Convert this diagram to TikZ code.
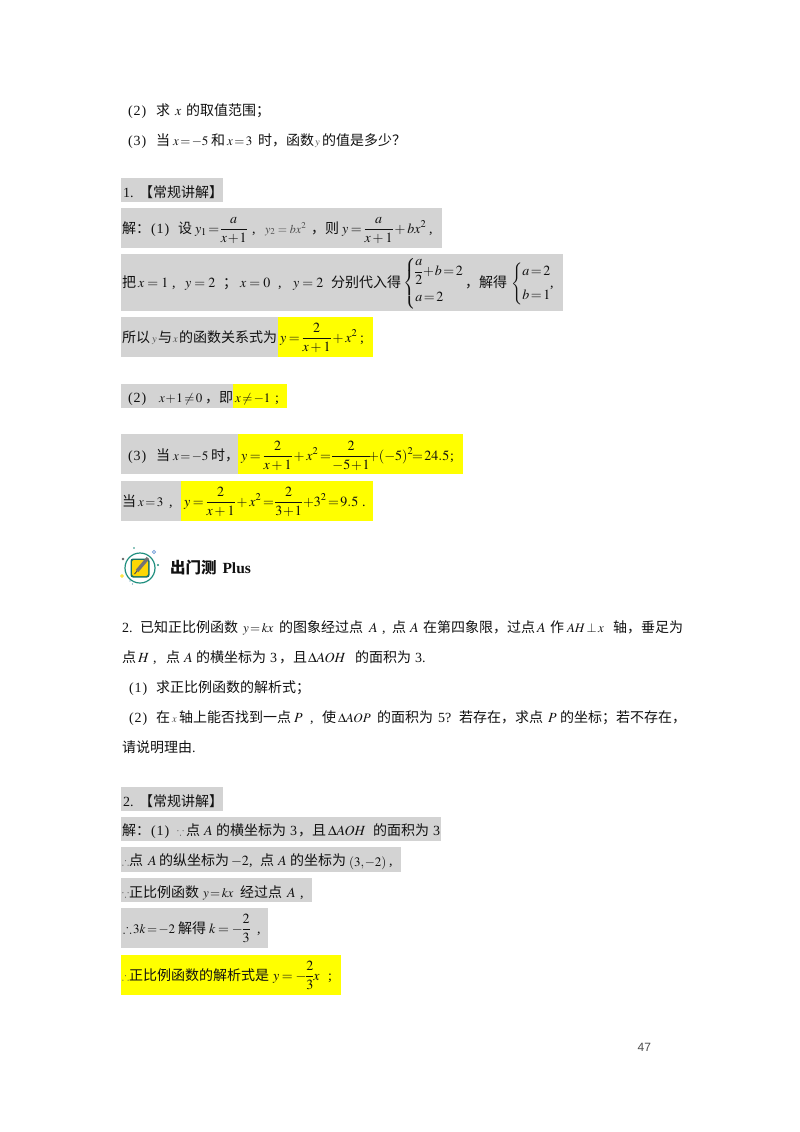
\documentclass[tikz,border=0pt]{standalone}
\usepackage[no-math]{fontspec}
\usepackage{amsmath,amssymb}
\usepackage{mathptmx}
\setmainfont{Liberation Serif}
\newfontfamily\cjk{Noto Sans CJK SC}
\newfontfamily\cjkb{Noto Sans CJK SC Bold}
\newfontfamily\lsans{Liberation Sans}
\definecolor{grayhl}{HTML}{D3D3D3}
\definecolor{yelhl}{HTML}{FFFF00}
\definecolor{ink}{HTML}{111111}
\definecolor{tealring}{HTML}{1F8F7F}
\newcounter{tn}
\newcommand{\tightm}{\thinmuskip=1mu\medmuskip=1mu plus 0mu\thickmuskip=2mu plus 0mu\nulldelimiterspace=0pt}
\newcommand{\midm}{\thinmuskip=1mu\medmuskip=2.5mu plus 0mu\thickmuskip=3.5mu plus 0mu\nulldelimiterspace=0pt}
\tikzset{
  x=1pt,y=-1pt,
  txt/.style={anchor=base west,inner sep=0pt,outer sep=0pt,text=ink,font=\fontsize{14}{16}\selectfont},
  grayband/.style={fill=grayhl,draw=none},
  yelband/.style={fill=yelhl,draw=none}
}
% Chinese text
\newcommand{\Cn}[3]{\stepcounter{tn}\node[txt] (t\arabic{tn}) at (#1,#2) {\cjk #3};}
% math, normal size, tight
\newcommand{\Mt}[3]{\stepcounter{tn}\node[txt] (t\arabic{tn}) at (#1,#2) {\tightm$\displaystyle #3$};}
% math, normal size, medium spacing
\newcommand{\Mv}[3]{\stepcounter{tn}\node[txt] (t\arabic{tn}) at (#1,#2) {\midm$\displaystyle #3$};}
% math, normal size, loose
\newcommand{\Mw}[3]{\stepcounter{tn}\node[txt] (t\arabic{tn}) at (#1,#2) {$#3$};}
% math, small
\newcommand{\Ms}[3]{\stepcounter{tn}\node[txt,font=\fontsize{13}{15}\selectfont] (t\arabic{tn}) at (#1,#2) {\tightm$#3$};}
% faint small formula
\newcommand{\Mf}[3]{\stepcounter{tn}\node[txt,font=\fontsize{12}{14}\selectfont,text=black!70] (t\arabic{tn}) at (#1,#2) {$#3$};}
% single tiny letters
\newcommand{\Mx}[3]{\stepcounter{tn}\node[txt,font=\fontsize{10.5}{12}\selectfont,text=black!70] (t\arabic{tn}) at (#1,#2) {$#3$};}
% upright roman text
\newcommand{\Rm}[3]{\stepcounter{tn}\node[txt] (t\arabic{tn}) at (#1,#2) {#3};}
\newcommand{\Pn}[1]{(\kern1pt#1\kern1pt)}
\newcommand{\Band}[5]{\fill[#1] (#2,#4) rectangle (#3,#5);}
\begin{document}
\begin{tikzpicture}
\useasboundingbox (0,0) rectangle (800,1132);
\fill[white] (0,0) rectangle (800,1132);
% bands
\Band{grayband}{121}{223}{178}{202}
\Band{grayband}{121}{442}{208}{248}
\Band{grayband}{121}{563}{254}{311}
\Band{grayband}{121}{278}{317}{357}
\Band{yelband}{278}{373}{317}{357}
\Band{grayband}{121}{233}{384}{408}
\Band{yelband}{233}{287}{384}{408}
\Band{grayband}{121}{238}{434}{474}
\Band{yelband}{238}{463}{434}{474}
\Band{grayband}{121}{181}{481}{521}
\Band{yelband}{181}{373}{481}{521}
\Band{grayband}{121}{223}{787}{811}
\Band{grayband}{121}{441}{817}{841}
\Band{grayband}{121}{401}{847}{872}
\Band{grayband}{121}{312}{878}{902}
\Band{grayband}{121}{268}{908}{948}
\Band{yelband}{121}{341}{955}{995}
% top lines
\Rm{128}{115}{\Pn{2}}
\Cn{156}{115}{求}
\Mw{175}{115}{x}
\Cn{186}{115}{的取值范围；}
\Rm{128}{145}{\Pn{3}}
\Cn{156}{145}{当}
\Ms{173}{145}{x=-5}
\Cn{211}{145}{和}
\Ms{227}{145}{x=3}
\Cn{258}{145}{时，函数}
\Mx{315}{145}{y}
\Cn{322}{145}{的值是多少？}
% section 1
\Rm{123}{197}{1.}
\Cn{139}{197}{【常规讲解】}
\Cn{122}{233}{解：}
\Rm{151}{233}{\Pn{1}}
\Cn{178}{233}{设}
\Mt{195}{233}{y_1=\frac{a}{x+1}}
\Rm{252}{233}{,}
\Mf{265}{233}{y_2=bx^2}
\Cn{311}{233}{，则}
\Mv{342}{233}{y=\frac{a}{x+1}+bx^2}
\Rm{429}{233}{,}
\Cn{122}{287}{把}
\Mw{138}{287}{x=1}
\Rm{172}{287}{,}
\Mw{185}{287}{y=2}
\Cn{223}{287}{；}
\Mw{240}{287}{x=0}
\Rm{278}{287}{,}
\Mw{293}{287}{y=2}
\Cn{331}{287}{分别代入得}
\Mt{403}{287}{\begin{cases}\dfrac{a}{2}+b=2\\[7pt] a=2\end{cases}}
\Cn{465}{287}{，解得}
\Mt{511}{287}{\begin{cases}a=2\\[5pt] b=1\end{cases}}
\Rm{550}{287}{,}
\Cn{122}{342}{所以}
\Mx{152}{342}{y}
\Cn{158}{342}{与}
\Mx{173}{342}{x}
\Cn{179}{342}{的函数关系式为}
\Mv{280}{342}{y=\frac{2}{x+1}+x^2}
\Rm{360}{342}{;}
\Rm{128}{402}{\Pn{2}}
\Ms{159}{402}{x+1\neq 0}
\Cn{205}{402}{，}
\Cn{219}{402}{即}
\Ms{235}{402}{x\neq -1}
\Rm{275}{402}{;}
\Rm{128}{460}{\Pn{3}}
\Cn{156}{460}{当}
\Ms{173}{460}{x=-5}
\Cn{211}{460}{时，}
\Mv{241}{460}{y=\frac{2}{x+1}+x^2}
\Mt{320}{460}{=\frac{2}{-5+1}}
\Mt{368}{460}{+(-5)^2}
\Mt{412}{460}{=24.5}
\Rm{450}{460}{;}
\Cn{122}{506}{当}
\Ms{138}{506}{x=3}
\Rm{169}{506}{,}
\Mv{184}{506}{y=\frac{2}{x+1}+x^2}
\Mt{263}{506}{=\frac{2}{3+1}}
\Mt{303}{506}{+3^2}
\Mt{328}{506}{=9.5}
\Rm{362}{506}{.}
% icon
\draw[tealring,line width=1.2pt] (140,568) circle (15);
\fill[rounded corners=2.5pt,tealring!80!black] (130.5,558.5) rectangle (149.5,577.5);
\fill[rounded corners=2pt,fill=yellow!75!orange] (132,560) rectangle (148,576);
\draw[black!55,line width=3.4pt] (137,571) -- (148,558);
\draw[black!70,line width=0.9pt] (134.5,574) -- (137,571);
\fill[tealring] (134,548) circle (0.8);
\fill[black!60] (123,559) circle (1.3);
\fill[tealring] (158,565) circle (1.2);
\draw[cyan!50!blue!60,line width=0.8pt] (154,552) circle (1.6);
\draw[yellow!80!orange,line width=0.8pt] (122,576) circle (1.4);
\fill[cyan!60!black] (132.5,584) circle (0.7);
\fill[cyan!60!black] (130,581) circle (0.7);
\stepcounter{tn}\node[txt,font=\fontsize{15.5}{17}\bfseries\selectfont] (t\arabic{tn}) at (170,573) {\cjkb 出门测};
\stepcounter{tn}\node[txt,font=\fontsize{15.5}{17}\bfseries\selectfont] (t\arabic{tn}) at (222.5,573) {Plus};
% question 2
\Rm{122}{632}{2.}
\Cn{140}{632}{已知正比例函数}
\Ms{243}{632}{y=kx}
\Cn{279}{632}{的图象经过点}
\Mw{369}{632}{A}
\Rm{382}{632}{,}
\Cn{392}{632}{点}
\Mw{410}{632}{A}
\Cn{423}{632}{在第四象限，过点}
\Mw{537}{632}{A}
\Cn{550}{632}{作}
\Ms{567}{632}{AH\perp x}
\Cn{613}{632}{轴，垂足为}
\Cn{122}{662}{点}
\Mw{138}{662}{H}
\Rm{153}{662}{,}
\Cn{166}{662}{点}
\Mw{184}{662}{A}
\Cn{196}{662}{的横坐标为}
\Rm{270}{662}{3}
\Cn{279}{662}{，且}
\Mw{308}{662}{\Delta AOH}
\Cn{355}{662}{的面积为}
\Rm{415}{662}{3.}
\Rm{129}{692}{\Pn{1}}
\Cn{156}{692}{求正比例函数的解析式；}
\Rm{129}{722}{\Pn{2}}
\Cn{156}{722}{在}
\Mx{172}{722}{x}
\Cn{179}{722}{轴上能否找到一点}
\Mw{294}{722}{P}
\Rm{310}{722}{,}
\Cn{322}{722}{使}
\Ms{338}{722}{\Delta AOP}
\Cn{377}{722}{的面积为}
\Rm{438}{722}{5?}
\Cn{459}{722}{若存在，求点}
\Mw{548}{722}{P}
\Cn{560}{722}{的坐标；若不存在，}
\Cn{122}{752}{请说明理由}
\Rm{192}{752}{.}
% section 2
\Rm{123}{806}{2.}
\Cn{139}{806}{【常规讲解】}
\Cn{122}{835}{解：}
\Rm{151}{835}{\Pn{1}}
\Mx{177}{835}{\because}
\Cn{186}{835}{点}
\Mw{204}{835}{A}
\Cn{216}{835}{的横坐标为}
\Rm{290}{835}{3}
\Cn{298}{835}{，且}
\Mw{328}{835}{\Delta AOH}
\Cn{373}{835}{的面积为}
\Rm{433}{835}{3}
\Mx{122}{865}{\therefore}
\Cn{129}{865}{点}
\Mw{148}{865}{A}
\Cn{159}{865}{的纵坐标为}
\Rm{231}{865}{\(-2\)}
\Rm{249}{865}{,}
\Cn{260}{865}{点}
\Mw{278}{865}{A}
\Cn{290}{865}{的坐标为}
\Ms{349}{866}{(3,-2)}
\Rm{389}{865}{,}
\Mx{122}{897}{\because}
\Cn{129}{897}{正比例函数}
\Ms{203}{897}{y=kx}
\Cn{240}{897}{经过点}
\Mw{287}{897}{A}
\Rm{300}{897}{,}
\Ms{123}{933}{\therefore 3k=-2}
\Cn{178}{933}{解得}
\Mv{209}{933}{k=-\frac{2}{3}}
\Rm{257}{933}{,}
\Mx{122}{980}{\therefore}
\Cn{129}{980}{正比例函数的解析式是}
\Mv{273}{980}{y=-\frac{2}{3}x}
\Rm{328}{980}{;}
% page number
\stepcounter{tn}\node[txt,anchor=base east,text=black!70,font=\fontsize{12}{14}\lsans\selectfont] (t\arabic{tn}) at (651,1051) {47};
\end{tikzpicture}
\end{document}
